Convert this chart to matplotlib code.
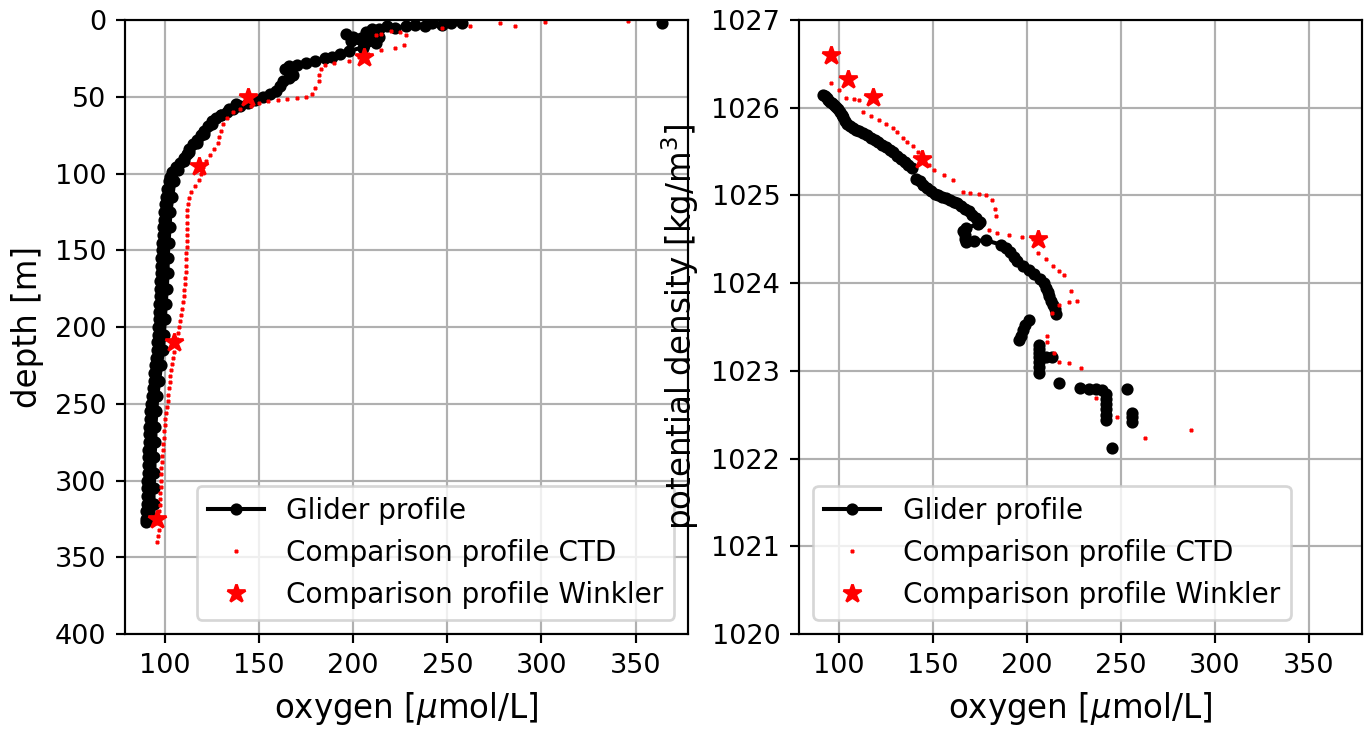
import matplotlib
matplotlib.use('Agg')
import matplotlib.pyplot as plt
import numpy as np

nan = np.nan

# === glider profile (oxygen vs depth), down cast; nan = gap in record ===
glider_oxy = [364, nan,
              258, 252, 247, 242, 238, 233, 228, 222, 218, 214, 210, 207, 212, 208, 214, 209,
              204, 200, 196, 199, 206, 212, 205, 198, 193, 189, 185, 180, 175, 170, 166, 164,
              166, 168, 166, 163, 161, 159, 156, 152, 148, 144, 140, 136, 133, 130, 127, 125,
              123, 121, 119, 117, 115, 113, 112, 110, 108, 106, 104, 103, 102,
              101, 100.5, 100, 99.5, 99.5, 99, 99, 98.5, 98.5, 98, 98, 98, 97.5, 97.5, 97.5,
              97, 97, 97, 96.5, 96.5, 96, 96, 95.5, 95, 94.5, 94, 93.5, 93, 92.5, 92, 92,
              91.5, 91.5, 91.5, 91, 91, 91, 91, 90.5, 90.5, 90.5, 90.5, 90, 90, 90]
glider_depth = [2, nan,
                2, 2, 3, 2, 4, 3, 4, 5, 4, 6, 6, 8, 9, 10, 11, 13,
                12, 11, 9, 14, 16, 15, 18, 20, 22, 24, 25, 27, 28, 29, 30, 32,
                34, 36, 38, 40, 43, 46, 48, 50, 52, 54, 56, 58, 60, 62, 64, 66,
                69, 72, 75, 78, 81, 84, 87, 90, 93, 96, 99, 102, 105,
                110, 115, 120, 125, 130, 135, 140, 145, 150, 155, 160, 165, 170, 175, 180,
                185, 190, 195, 200, 205, 210, 215, 220, 225, 230, 235, 240, 245, 250, 255, 260,
                265, 270, 275, 280, 285, 290, 295, 300, 305, 310, 315, 320, 325, 327]

# glider up cast (oxygen vs depth)
glider_up_oxy = [94, 94, 94, 94.5, 94.5, 95, 95, 95.5, 96, 97, 98, 99, 99.5, 100, 100.5,
                 101, 101.5, 101.5, 102, 102.5, 103, 104, 105, 107, 110, 113, 117, 121, 125,
                 130, 134, 138]
glider_up_depth = [325, 315, 305, 295, 285, 275, 265, 255, 245, 235, 225, 215, 205, 195, 185,
                   175, 165, 155, 145, 135, 125, 115, 105, 98, 92, 86, 80, 74, 68,
                   62, 58, 55]

# === CTD comparison profile (oxygen vs depth) ===
ctd_oxy = [346, 302, 286, 278, 262, 247, 228, 225, 220, 215, 212, 227, 222, 215, 208, 203,
           198, 190, 185, 183, 182, 182, 180, 178, 175, 170, 165, 160, 155, 150, 146, 140,
           136, 133, 131, 130, 129, 128, 126, 124, 122, 120, 119, 118, 116, 114, 113, 112.5,
           112, 112, 112, 112, 112, 112, 112, 111.5, 111.5, 111, 111, 110.5, 110.5, 110, 110,
           109.5, 109, 108.5, 108, 107.5, 107, 106.5, 106, 105, 104.5, 104, 103.5, 103, 102.5,
           102, 101.5, 101.5, 101, 100.5, 100, 100, 99.5, 99.5, 99, 99, 98.5, 98.5, 98, 98,
           98, 97.8, 97.5, 97.5, 97.2, 97, 96.8, 96.5, 97, 96.5, 96]
ctd_depth = [0.5, 1, 4, 2, 4, 5, 10, 8, 7, 9, 10, 16, 18, 19.5, 22, 24,
             27, 28, 29, 32, 36, 40, 44, 48, 50, 51, 51.5, 52, 53, 54, 56, 58,
             60, 64, 68, 72, 76, 80, 84, 88, 92, 96, 100, 104, 108, 112, 116, 120,
             124, 128, 132, 136, 140, 144, 148, 152, 156, 160, 164, 168, 172, 176, 180,
             184, 188, 192, 196, 200, 204, 208, 212, 216, 220, 224, 228, 232, 236,
             240, 244, 248, 252, 256, 260, 264, 268, 272, 276, 280, 284, 288, 292, 296,
             300, 304, 308, 312, 316, 320, 324, 328, 332, 336, 340]

# === Winkler bottle samples ===
wink_oxy = [96, 105, 118, 144, 206]
wink_depth = [325, 210, 95, 50, 24]
wink_dens = [1026.6, 1026.33, 1026.12, 1025.41, 1024.5]

# === glider profile (oxygen vs potential density) ===
glider_oxy_d = [91.5, 92.5, 93.5, 94.5, 95.5, 96.5, 97.5, 98.5, 99.5, 100.5, 101.5, 102.5,
                103.5, 104.5, 106, 107.5, 109, 111, 113, 115, 117, 119, 121, 123, 125, 127,
                129, 131, 133, 135, 137, 139, nan,
                141, 143, 145, 147, 149, 151, 153, 155, 157, 159, 161, 163, 165, 167, 169,
                171, 173, 175, 174, 167.5, 166, 167, 167, 167.5, 172, 178, 186, 189, 191,
                193, 195, 198, 201, 204, 207, 209, 210, 211, 212, 213, 214, 215, 215.5, nan,
                201, 199, 198, 197, 196, nan,
                206.5, 206.5, 206.5, 206.5, 210, 213.5, 206.5, 206.5, 206.5, nan,
                217, nan,
                228, 233, 237, 240, 242, 242, 242, 242, 242, 242, nan,
                253, nan, 256, 256, 256, nan, 245]
glider_dens = [1026.14, 1026.13, 1026.11, 1026.09, 1026.07, 1026.05, 1026.03, 1026.01,
               1025.98, 1025.95, 1025.92, 1025.89, 1025.85, 1025.82, 1025.79, 1025.77,
               1025.75, 1025.73, 1025.71, 1025.69, 1025.66, 1025.63, 1025.61, 1025.58,
               1025.55, 1025.52, 1025.49, 1025.45, 1025.42, 1025.38, 1025.35, 1025.31, nan,
               1025.19, 1025.16, 1025.12, 1025.08, 1025.05, 1025.02, 1025.0, 1024.98,
               1024.97, 1024.95, 1024.93, 1024.91, 1024.88, 1024.85, 1024.82, 1024.78,
               1024.74, 1024.7, 1024.67, 1024.63, 1024.6, 1024.55, 1024.5, 1024.47,
               1024.48, 1024.49, 1024.44, 1024.4, 1024.35, 1024.3, 1024.25, 1024.2,
               1024.15, 1024.1, 1024.05, 1024.0, 1023.95, 1023.9, 1023.85, 1023.8,
               1023.75, 1023.7, 1023.65, nan,
               1023.58, 1023.52, 1023.47, 1023.4, 1023.35, nan,
               1023.3, 1023.25, 1023.2, 1023.16, 1023.16, 1023.16, 1023.1, 1023.04, 1022.98, nan,
               1022.86, nan,
               1022.8, 1022.79, 1022.79, 1022.78, 1022.74, 1022.68, 1022.62, 1022.56,
               1022.5, 1022.44, nan,
               1022.79, nan, 1022.52, 1022.47, 1022.42, nan, 1022.12]

# === CTD (oxygen vs potential density) ===
ctd_oxy_d = [96, 100, 104, 108, 111, 113, 117, 121.6, 125, 128.7, 131, 134, 136.5, 139.3,
             142, 145, 148, 150.8, 156, 160.6, 165.8, 170, 174.7, 178, 181.7, 183, 183.5,
             180, 184, 190.5, 197.6, 203, 206, 210, 214, 217, 219.7, 223.7, 226.6, 222.3,
             217, 213.3, 210.7, 210.7, 214.5, 217, 222.3, 228.6, 236.6, 247.8, 263, 287]
ctd_dens = [1026.28, 1026.2, 1026.11, 1026.1, 1026.09, 1025.95, 1025.9, 1025.86, 1025.82,
            1025.77, 1025.72, 1025.66, 1025.61, 1025.56, 1025.5, 1025.42, 1025.35, 1025.29,
            1025.23, 1025.18, 1025.04, 1025.03, 1025.02, 1025.0, 1024.95, 1024.85, 1024.76,
            1024.61, 1024.57, 1024.55, 1024.53, 1024.5, 1024.34, 1024.28, 1024.2, 1024.14,
            1024.09, 1023.91, 1023.8, 1023.78, 1023.75, 1023.66, 1023.4, 1023.33, 1023.2,
            1023.1, 1023.09, 1023.03, 1022.69, 1022.47, 1022.23, 1022.33]

fig = plt.figure(figsize=(1371 / 195, 730 / 195), dpi=195)
ax1 = fig.add_axes([0.0914, 0.1315, 0.4106, 0.8411])
ax2 = fig.add_axes([0.583, 0.1315, 0.4102, 0.8411])

ax1.plot(glider_oxy, glider_depth, 'k.-', ms=7, label='Glider profile')
ax1.plot(glider_up_oxy, glider_up_depth, 'k.-', ms=7)
ax1.plot(ctd_oxy, ctd_depth, 'r+', ms=1.8, mew=1.1, ls='none', label='Comparison profile CTD')
ax1.plot(wink_oxy, wink_depth, 'r*', ms=7, ls='none', label='Comparison profile Winkler')
ax1.set_xlim(79, 378)
ax1.set_ylim(400, 0)
ax1.set_xlabel('oxygen [$\\mu$mol/L]', fontsize=12)
ax1.set_ylabel('depth [m]', fontsize=12)
ax1.grid(True)
ax1.legend(loc='lower right', fontsize=10.3)

ax2.plot(glider_oxy_d, glider_dens, 'k.-', ms=7, label='Glider profile')
ax2.plot(ctd_oxy_d, ctd_dens, 'r+', ms=1.8, mew=1.1, ls='none', label='Comparison profile CTD')
ax2.plot(wink_oxy, wink_dens, 'r*', ms=7, ls='none', label='Comparison profile Winkler')
ax2.set_xlim(79, 378)
ax2.set_ylim(1020, 1027)
ax2.set_xlabel('oxygen [$\\mu$mol/L]', fontsize=12)
ax2.set_ylabel('potential density [kg/m$^3$]', fontsize=12)
ax2.grid(True)
ax2.legend(loc='lower left', fontsize=10.3)

fig.savefig('out.png', dpi=195)
